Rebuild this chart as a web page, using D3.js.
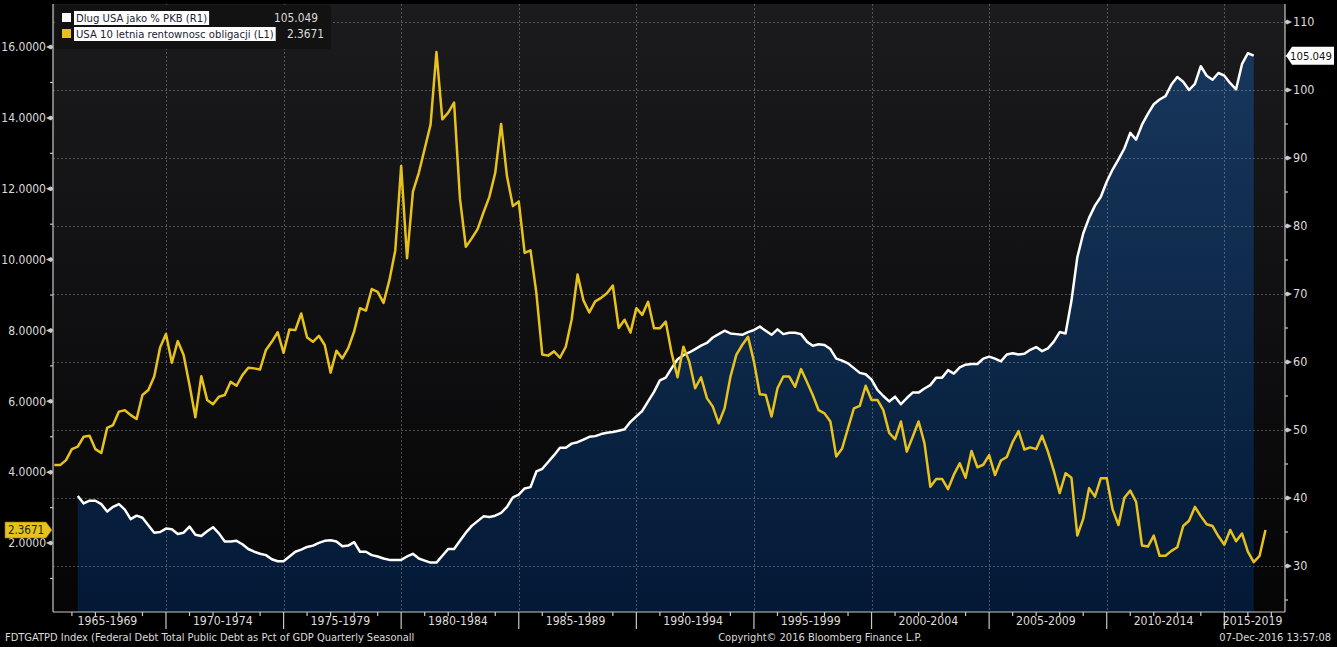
<!DOCTYPE html>
<html>
<head>
<meta charset="utf-8">
<script src="https://cdn.jsdelivr.net/npm/d3@7/dist/d3.min.js"></script>
<style>
  body { margin: 0; background: #000; }
  svg text { font-family: "Liberation Sans Narrow", "DejaVu Sans Condensed", "Arial Narrow", "Liberation Sans", sans-serif; }
</style>
</head>
<body>
<svg id="mainSvg" width="1337" height="647"></svg>
<script>
// US 10y yield, quarterly, first point 1965 Q2
var yieldStart = 1965.25;
var yieldVals = [
  4.20, 4.20, 4.34, 4.65, 4.72, 5.00, 5.03, 4.65, 4.54, 5.25, 5.33, 5.71, 5.75, 5.61, 5.50, 6.18,
  6.32, 6.70, 7.52, 7.90, 7.09, 7.70, 7.31, 6.46, 5.55, 6.71, 6.04, 5.92, 6.13, 6.18, 6.55, 6.44,
  6.74, 6.95, 6.93, 6.90, 7.45, 7.68, 7.95, 7.37, 8.03, 8.01, 8.48, 7.80, 7.68, 7.85, 7.59, 6.81,
  7.43, 7.21, 7.50, 7.97, 8.63, 8.56, 9.17, 9.09, 8.78, 9.42, 10.26, 12.64, 10.04, 11.92, 12.45, 13.13,
  13.81, 15.86, 13.96, 14.15, 14.43, 11.72, 10.36, 10.60, 10.86, 11.33, 11.77, 12.45, 13.83, 12.35, 11.51, 11.64,
  10.19, 10.26, 9.05, 7.32, 7.29, 7.41, 7.23, 7.54, 8.31, 9.58, 8.85, 8.51, 8.82, 8.92, 9.05, 9.27,
  8.07, 8.30, 7.94, 8.63, 8.44, 8.81, 8.06, 8.06, 8.25, 7.36, 6.68, 7.54, 7.12, 6.37, 6.68, 6.09,
  5.85, 5.38, 5.80, 6.69, 7.31, 7.59, 7.82, 7.12, 6.20, 6.18, 5.57, 6.37, 6.70, 6.70, 6.41, 6.91,
  6.55, 6.18, 5.75, 5.66, 5.43, 4.44, 4.67, 5.24, 5.80, 5.87, 6.44, 6.04, 6.04, 5.75, 5.11, 4.93,
  5.43, 4.58, 5.00, 5.43, 4.82, 3.59, 3.81, 3.81, 3.52, 3.93, 4.25, 3.84, 4.60, 4.14, 4.21, 4.48,
  3.92, 4.33, 4.43, 4.85, 5.16, 4.64, 4.70, 4.65, 5.03, 4.58, 4.04, 3.41, 3.97, 3.84, 2.21, 2.68,
  3.55, 3.31, 3.83, 3.83, 2.95, 2.51, 3.28, 3.48, 3.16, 1.93, 1.90, 2.21, 1.64, 1.64, 1.78, 1.88,
  2.48, 2.63, 3.02, 2.76, 2.53, 2.48, 2.19, 1.95, 2.37, 2.05, 2.27, 1.76, 1.46, 1.64, 2.3671
];

// federal debt as % of GDP, quarterly, first point 1966 Q2
var debtStart = 1966.25;
var debtVals = [
  40.3, 39.2, 39.6, 39.6, 39.1, 38.0, 38.7, 39.1, 38.3, 36.9, 37.4, 37.1, 36.0, 34.9, 35.0, 35.5,
  35.4, 34.7, 34.9, 35.8, 34.6, 34.4, 35.1, 35.7, 34.8, 33.6, 33.6, 33.7, 33.2, 32.5, 32.1, 31.8,
  31.6, 31.0, 30.7, 30.7, 31.4, 32.1, 32.4, 32.8, 33.0, 33.4, 33.7, 33.8, 33.6, 32.9, 33.0, 33.5,
  32.1, 32.1, 31.6, 31.4, 31.1, 30.9, 30.9, 30.9, 31.4, 31.8, 31.1, 30.8, 30.5, 30.5, 31.5, 32.5,
  32.5, 33.7, 34.9, 35.9, 36.6, 37.3, 37.2, 37.4, 37.8, 38.7, 40.1, 40.5, 41.4, 41.6, 43.9, 44.3,
  45.3, 46.3, 47.4, 47.4, 48.0, 48.2, 48.6, 49.0, 49.1, 49.4, 49.6, 49.7, 49.9, 50.1, 51.2, 52.0,
  52.8, 54.2, 55.6, 57.3, 57.7, 59.1, 60.4, 61.0, 61.4, 61.9, 62.4, 62.8, 63.6, 64.1, 64.6, 64.2,
  64.1, 64.0, 64.4, 64.7, 65.2, 64.6, 64.0, 64.8, 64.1, 64.3, 64.3, 64.1, 63.0, 62.4, 62.6, 62.5,
  61.9, 60.5, 60.2, 59.8, 59.1, 58.4, 58.2, 57.4, 55.9, 55.0, 54.2, 54.9, 53.8, 54.7, 55.5, 55.5,
  56.1, 56.6, 57.7, 57.7, 58.8, 58.3, 59.2, 59.6, 59.7, 59.7, 60.5, 60.8, 60.5, 60.1, 61.1, 61.3,
  61.1, 61.2, 61.8, 62.2, 61.6, 62.0, 63.0, 64.4, 64.2, 69.0, 75.4, 78.9, 81.2, 83.0, 84.3, 86.5,
  88.3, 89.8, 91.4, 93.7, 92.7, 94.9, 96.5, 97.9, 98.6, 99.1, 100.8, 101.9, 101.2, 100.0, 100.9, 103.5,
  102.1, 101.5, 102.5, 102.1, 101.0, 100.1, 103.8, 105.4, 105.049
];

var periodStarts = [1965, 1970, 1975, 1980, 1985, 1990, 1995, 2000, 2005, 2010, 2015];
var periodLabels = ["1965-1969", "1970-1974", "1975-1979", "1980-1984", "1985-1989", "1990-1994",
                    "1995-1999", "2000-2004", "2005-2009", "2010-2014", "2015-2019"];
var leftTicks = [2, 4, 6, 8, 10, 12, 14, 16];
var rightTicks = [30, 40, 50, 60, 70, 80, 90, 100, 110];

var seriesNames = ["Dlug USA jako % PKB (R1)", "USA 10 letnia rentownosc obligacji (L1)"];
var seriesLast = ["105.049", "2.3671"];

var footLeft = "FDTGATPD Index (Federal Debt Total Public Debt as Pct of GDP Quarterly Seasonall";
var footMid = "Copyright\u00a9 2016 Bloomberg Finance L.P.";
var footRight = "07-Dec-2016 13:57:08";

var yellow = "#e8c21c";
var seriesColors = ["#ffffff", yellow];
var axisCol = "#c8c8c8";
var textCol = "#dcdcdc";

var plot = {left: 53, right: 1285, top: 4, bottom: 612};

var x = d3.scaleLinear().domain([1965.196, 2017.58]).range([plot.left, plot.right]);
var yL = d3.scaleLinear().domain([0, 17.215]).range([613.9, plot.top]);
var yR = d3.scaleLinear().domain([30, 110]).range([566, 22]);

var yieldData = yieldVals.map(function(v, i) { return {t: yieldStart + i / 4, v: v}; });
var debtData = debtVals.map(function(v, i) { return {t: debtStart + i / 4, v: v}; });

var svg = d3.select("#mainSvg");
svg.append("rect").attr("width", 1337).attr("height", 647).attr("fill", "#000");

var defs = svg.append("defs");
var bg = defs.append("linearGradient").attr("id", "bgGrad")
  .attr("x1", 0).attr("y1", 0).attr("x2", 0).attr("y2", 1);
bg.append("stop").attr("offset", "0%").attr("stop-color", "#1b1b1d");
bg.append("stop").attr("offset", "100%").attr("stop-color", "#050506");
var ag = defs.append("linearGradient").attr("id", "areaGrad")
  .attr("gradientUnits", "userSpaceOnUse")
  .attr("x1", 0).attr("y1", plot.top).attr("x2", 0).attr("y2", plot.bottom);
ag.append("stop").attr("offset", "0%").attr("stop-color", "#19395f");
ag.append("stop").attr("offset", "100%").attr("stop-color", "#031936");

svg.append("rect")
  .attr("x", plot.left).attr("y", plot.top)
  .attr("width", plot.right - plot.left).attr("height", plot.bottom - plot.top)
  .attr("fill", "url(#bgGrad)");

// debt area (right axis)
var area = d3.area().x(function(d) { return x(d.t); }).y0(plot.bottom).y1(function(d) { return yR(d.v); });
svg.append("path").datum(debtData).attr("d", area).attr("fill", "url(#areaGrad)");

// grid
var grid = svg.append("g").attr("stroke", "rgba(200,200,200,0.35)").attr("stroke-width", 1)
  .attr("stroke-dasharray", "2,2");
rightTicks.forEach(function(v) {
  grid.append("line").attr("x1", plot.left).attr("x2", plot.right)
    .attr("y1", Math.round(yR(v)) + 0.5).attr("y2", Math.round(yR(v)) + 0.5);
});
periodStarts.slice(1).forEach(function(p) {
  grid.append("line").attr("y1", plot.top).attr("y2", plot.bottom)
    .attr("x1", Math.round(x(p)) + 0.5).attr("x2", Math.round(x(p)) + 0.5);
});

var lineD = d3.line().x(function(d) { return x(d.t); }).y(function(d) { return yR(d.v); });
svg.append("path").datum(debtData).attr("d", lineD)
  .attr("fill", "none").attr("stroke", "#ffffff").attr("stroke-width", 2.5).attr("stroke-linejoin", "round");

var lineY = d3.line().x(function(d) { return x(d.t); }).y(function(d) { return yL(d.v); });
svg.append("path").datum(yieldData).attr("d", lineY)
  .attr("fill", "none").attr("stroke", yellow).attr("stroke-width", 2.5).attr("stroke-linejoin", "round");

// axes lines
var ax = svg.append("g").attr("stroke", axisCol).attr("stroke-width", 1.2);
ax.append("line").attr("x1", plot.left).attr("x2", plot.left).attr("y1", plot.top).attr("y2", plot.bottom);
ax.append("line").attr("x1", plot.right).attr("x2", plot.right).attr("y1", plot.top).attr("y2", plot.bottom);
ax.append("line").attr("x1", plot.left).attr("x2", plot.right).attr("y1", plot.bottom).attr("y2", plot.bottom);

// left axis
d3.range(1, 17, 2).forEach(function(v) {
  ax.append("line").attr("x1", plot.left - 3).attr("x2", plot.left).attr("y1", yL(v)).attr("y2", yL(v));
});
leftTicks.forEach(function(v) {
  var y = yL(v);
  svg.append("path")
    .attr("d", "M" + (plot.left - 7) + "," + y + "L" + (plot.left - 2) + "," + (y - 2.5) + "L" + plot.left + "," + (y - 0.6) +
      "L" + plot.left + "," + (y + 0.6) + "L" + (plot.left - 2) + "," + (y + 2.5) + "Z")
    .attr("fill", axisCol);
  svg.append("text").attr("x", plot.left - 7).attr("y", y).attr("dy", "0.35em")
    .attr("text-anchor", "end").attr("fill", textCol).attr("font-size", 12)
    .text(d3.format(".4f")(v));
});

// right axis
d3.range(25, 115, 10).forEach(function(v) {
  ax.append("line").attr("x1", plot.right).attr("x2", plot.right + 3).attr("y1", yR(v)).attr("y2", yR(v));
});
rightTicks.forEach(function(v) {
  var y = yR(v);
  svg.append("path")
    .attr("d", "M" + (plot.right + 7) + "," + y + "L" + (plot.right + 2) + "," + (y - 2.5) + "L" + plot.right + "," + (y - 0.6) +
      "L" + plot.right + "," + (y + 0.6) + "L" + (plot.right + 2) + "," + (y + 2.5) + "Z")
    .attr("fill", axisCol);
  svg.append("text").attr("x", plot.right + 8).attr("y", y).attr("dy", "0.35em")
    .attr("fill", textCol).attr("font-size", 12.5).text(v);
});

// bottom axis
d3.range(1966, 2018).forEach(function(yr) {
  var len = yr % 5 == 0 ? 17 : 4;
  ax.append("line").attr("x1", x(yr)).attr("x2", x(yr)).attr("y1", plot.bottom).attr("y2", plot.bottom + len);
});
periodStarts.forEach(function(p, i) {
  var a = Math.max(x(p), plot.left), b = Math.min(x(p + 5), plot.right);
  svg.append("text").attr("x", (a + b) / 2 - 2).attr("y", plot.bottom + 13)
    .attr("text-anchor", "middle").attr("fill", textCol).attr("font-size", 12.2).text(periodLabels[i]);
});

// value tags
var yTag = yL(yieldVals[yieldVals.length - 1]);
svg.append("path")
  .attr("d", "M5," + (yTag - 8) + "H46L52," + yTag + "L46," + (yTag + 8) + "H5Z")
  .attr("fill", yellow).attr("stroke", "#8a7410").attr("stroke-width", 0.6);
svg.append("text").attr("x", 26).attr("y", yTag).attr("dy", "0.36em").attr("text-anchor", "middle")
  .attr("fill", "#222").attr("font-size", 11.5).text(seriesLast[1]);

var dTag = yR(debtVals[debtVals.length - 1]);
svg.append("path")
  .attr("d", "M" + (plot.right + 1) + "," + dTag + "L" + (plot.right + 7) + "," + (dTag - 9) + "H1334V" + (dTag + 9) +
    "H" + (plot.right + 7) + "Z")
  .attr("fill", "#ffffff");
svg.append("text").attr("x", 1311).attr("y", dTag).attr("dy", "0.36em").attr("text-anchor", "middle")
  .attr("fill", "#111").attr("font-size", 11.3).text(seriesLast[0]);

// legend
var lg = svg.append("g");
lg.append("rect").attr("x", 55).attr("y", 5).attr("width", 276).attr("height", 44).attr("rx", 3)
  .attr("fill", "#121213");
seriesNames.forEach(function(name, i) {
  var cy = 18 + i * 16;
  lg.append("rect").attr("x", 62).attr("y", cy - 5).attr("width", 9).attr("height", 9).attr("fill", seriesColors[i]);
  var t = lg.append("text").attr("x", 76).attr("y", cy).attr("dy", "0.35em")
    .attr("fill", "#1c2233").attr("font-size", 11.2).text(name);
  var w = t.node().getComputedTextLength();
  lg.insert("rect", function() { return t.node(); })
    .attr("x", 74).attr("y", cy - 7).attr("width", w + 4).attr("height", 14).attr("fill", "#ffffff");
  lg.append("text").attr("x", i == 0 ? 318 : 324).attr("y", cy).attr("dy", "0.35em")
    .attr("text-anchor", "end").attr("fill", textCol).attr("font-size", 11.8).text(seriesLast[i]);
});

// footer
var foot = svg.append("g").attr("fill", textCol).attr("font-size", 11);
foot.append("text").attr("x", 5).attr("y", 641).text(footLeft);
foot.append("text").attr("x", 820).attr("y", 641).attr("text-anchor", "middle").text(footMid);
foot.append("text").attr("x", 1331).attr("y", 641).attr("text-anchor", "end").text(footRight);
</script>
</body>
</html>
